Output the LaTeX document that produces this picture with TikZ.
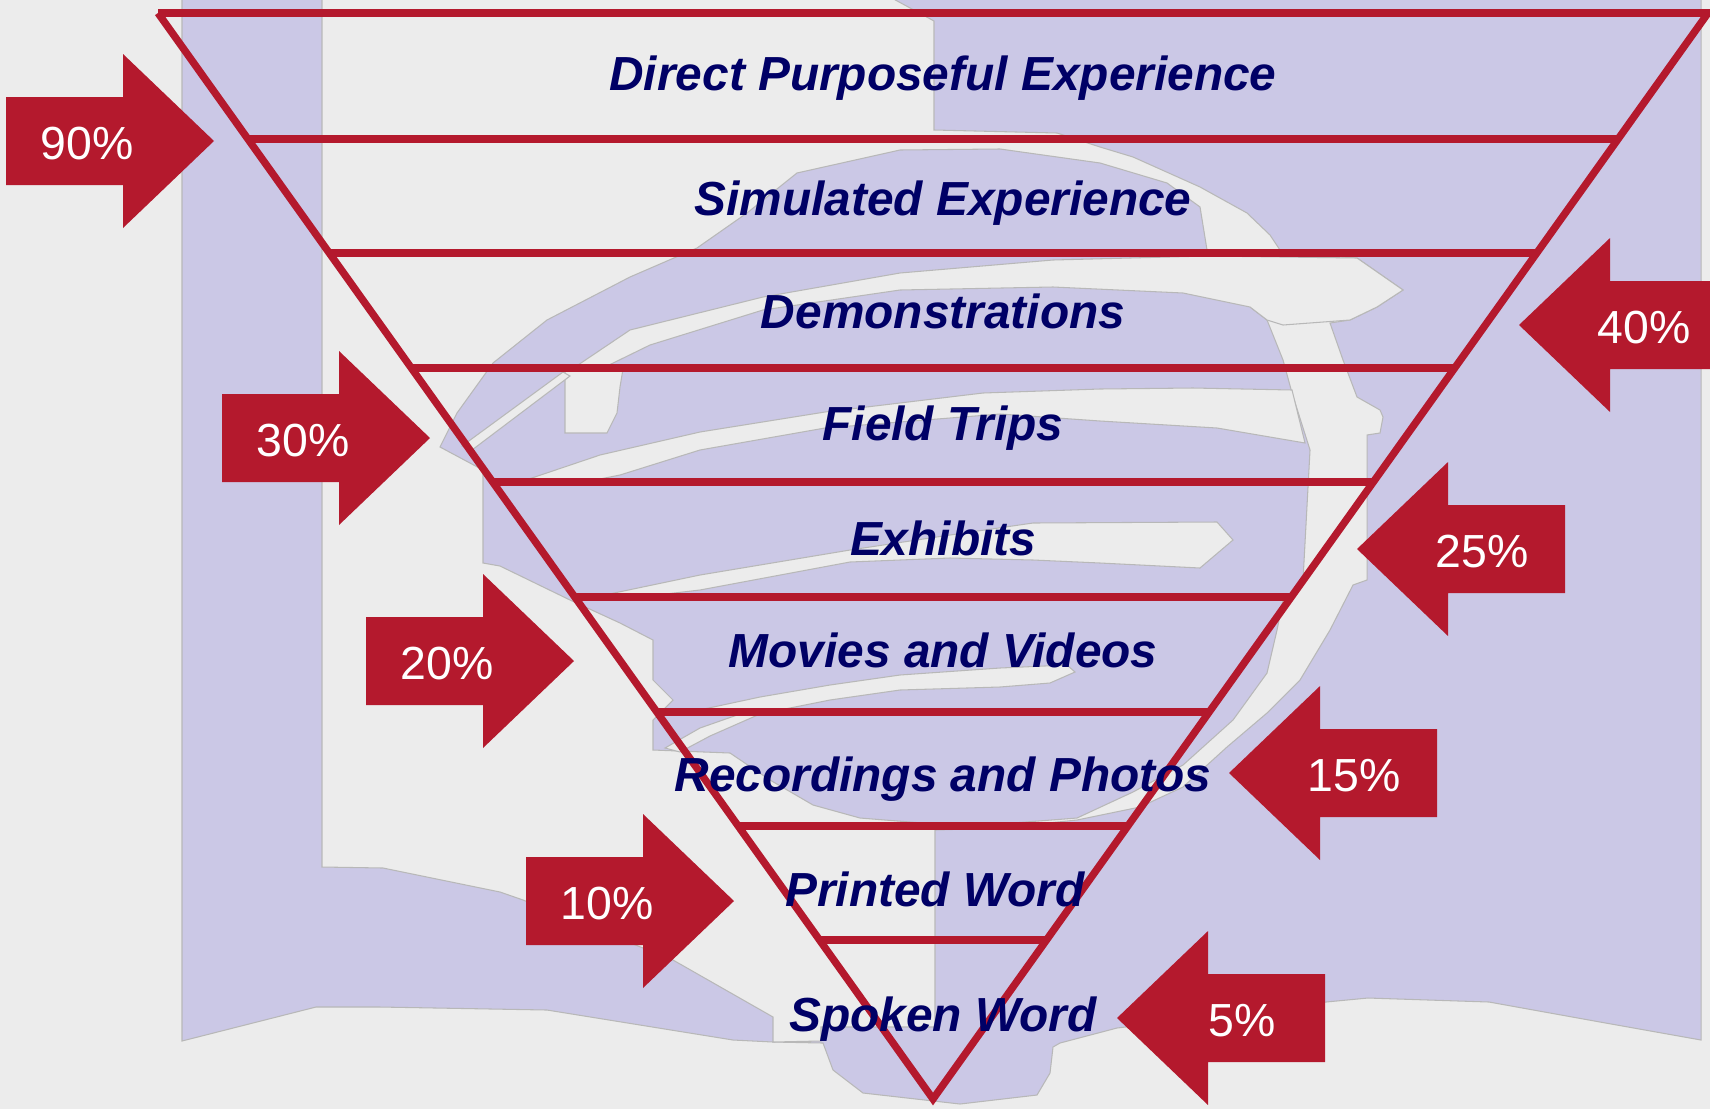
\documentclass[tikz,border=0pt]{standalone}
\usepackage{fontspec}
\setmainfont{Liberation Sans}
\usepackage{xcolor}
\usepackage{tikz}

\definecolor{conered}{RGB}{180,25,45}
\definecolor{labelnavy}{RGB}{0,0,102}
\definecolor{booklav}{RGB}{203,200,230}
\definecolor{paper}{RGB}{236,236,236}

\tikzset{
  coneline/.style={draw=conered, line width=2.1pt},
  stage/.style={text=labelnavy, font=\fontsize{13.6}{16}\selectfont\bfseries\itshape, anchor=base, inner sep=0pt},
  percent/.style={text=white, font=\fontsize{13.2}{15}\selectfont, anchor=base, inner sep=0pt},
  lavpart/.style={fill=booklav, draw=black!28, line width=0.3pt},
  paperpart/.style={fill=paper, draw=black!28, line width=0.3pt},
}

\begin{document}
\begin{tikzpicture}[x=0.01cm, y=-0.01cm]

  \useasboundingbox (0,0) rectangle (1710,1109);
  \clip (0,0) rectangle (1710,1109);
  \fill[paper] (0,0) rectangle (1710,1109);

  % book in the background
  \path[lavpart] (182,-10) -- (1701,-10) -- (1701,1040) -- (1600,1022) -- (1489,1002) -- (1368,998)
    -- (1326,1002) -- (1200,1018) -- (1117,1028) -- (1060,1043) -- (1053,1047) -- (1050,1073)
    -- (1037,1095) -- (960,1104) -- (863,1093) -- (833,1070) -- (823,1043) -- (773,1042)
    -- (733,1040) -- (547,1010) -- (380,1007) -- (316,1007) -- (182,1041) -- cycle;
  \path[paperpart] (322,-10) -- (877,-10) -- (934,21) -- (934,130) -- (1057,133) -- (1100,147)
    -- (1133,157) -- (1200,187) -- (1247,213) -- (1270,235) -- (1282,253) -- (1357,258)
    -- (1403,290) -- (1377,307) -- (1350,320) -- (1330,323) -- (1343,360) -- (1357,397)
    -- (1380,410) -- (1383,417) -- (1380,433) -- (1367,435) -- (1367,580) -- (1353,585)
    -- (1330,630) -- (1300,680) -- (1267,713) -- (1227,747) -- (1183,787) -- (1140,807)
    -- (1077,820) -- (1000,828) -- (935,830) -- (935,1027) -- (821,1027) -- (821,1041)
    -- (773,1042) -- (773,1017) -- (673,960) -- (523,900) -- (500,892) -- (383,868)
    -- (322,867) -- cycle;
  \path[lavpart] (697,248) -- (747,213) -- (797,173) -- (900,150) -- (1000,149) -- (1100,163)
    -- (1167,183) -- (1200,207) -- (1207,250) -- (1250,307) -- (1267,320) -- (1283,360)
    -- (1292,393) -- (1310,450) -- (1303,580) -- (1283,600) -- (1277,630) -- (1267,673)
    -- (1233,720) -- (1183,765) -- (1133,792) -- (1077,818) -- (1000,824) -- (935,824)
    -- (860,818) -- (813,805) -- (770,780) -- (730,753) -- (653,750) -- (653,720)
    -- (673,700) -- (653,680) -- (653,640) -- (620,623) -- (570,600) -- (500,566)
    -- (483,563) -- (483,470) -- (440,447) -- (457,413) -- (493,363) -- (547,320)
    -- (630,277) -- cycle;
  \path[paperpart] (575,367) -- (630,330) -- (763,297) -- (900,273) -- (1053,260) -- (1207,256)
    -- (1357,258) -- (1403,290) -- (1377,307) -- (1350,320) -- (1283,325) -- (1267,320)
    -- (1250,307) -- (1183,293) -- (1053,287) -- (900,290) -- (763,310) -- (650,345)
    -- (605,367) -- cycle;
  \path[paperpart] (520,482) -- (600,455) -- (700,432) -- (825,412) -- (983,393) -- (1100,389)
    -- (1193,388) -- (1292,390) -- (1305,443) -- (1217,428) -- (1100,421) -- (1000,414)
    -- (825,428) -- (700,450) -- (620,475) -- (585,482) -- cycle;
  \path[paperpart] (595,597) -- (700,575) -- (850,550) -- (950,535) -- (1033,523) -- (1217,522)
    -- (1233,540) -- (1200,568) -- (1100,563) -- (1033,560) -- (950,558) -- (850,562)
    -- (700,590) -- (640,597) -- cycle;
  \path[paperpart] (690,712) -- (760,697) -- (830,685) -- (900,675) -- (1000,668) -- (1067,665)
    -- (1075,672) -- (1050,683) -- (1000,687) -- (900,690) -- (830,700) -- (770,712) -- cycle;
  \path[paperpart] (565,369) -- (623,369) -- (620,387) -- (617,413) -- (607,433) -- (565,433) -- cycle;
  \path[paperpart] (462,446) -- (563,372) -- (570,376) -- (472,450) -- cycle;
  \path[paperpart] (665,748) -- (700,728) -- (740,714) -- (760,714) -- (710,736) -- (680,752) -- cycle;

  % arrows
  \fill[conered] (6,97) -- ++(117,0) -- ++(0,-43) -- ++(91,87) -- ++(-91,87) -- ++(0,-43) -- ++(-117,0) -- cycle;
  \fill[conered] (222,394) -- ++(117,0) -- ++(0,-43) -- ++(91,87) -- ++(-91,87) -- ++(0,-43) -- ++(-117,0) -- cycle;
  \fill[conered] (366,617) -- ++(117,0) -- ++(0,-43) -- ++(91,87) -- ++(-91,87) -- ++(0,-43) -- ++(-117,0) -- cycle;
  \fill[conered] (526,857) -- ++(117,0) -- ++(0,-43) -- ++(91,87) -- ++(-91,87) -- ++(0,-43) -- ++(-117,0) -- cycle;

  \fill[conered] (1727,281) -- ++(-117,0) -- ++(0,-43) -- ++(-91,87) -- ++(91,87) -- ++(0,-43) -- ++(117,0) -- cycle;
  \fill[conered] (1565,505) -- ++(-117,0) -- ++(0,-43) -- ++(-91,87) -- ++(91,87) -- ++(0,-43) -- ++(117,0) -- cycle;
  \fill[conered] (1437,729) -- ++(-117,0) -- ++(0,-43) -- ++(-91,87) -- ++(91,87) -- ++(0,-43) -- ++(117,0) -- cycle;
  \fill[conered] (1325,974) -- ++(-117,0) -- ++(0,-43) -- ++(-91,87) -- ++(91,87) -- ++(0,-43) -- ++(117,0) -- cycle;

  \node[percent] (p90) at (87,159) {90\%};
  \node[percent] (p30) at (303,456) {30\%};
  \node[percent] (p20) at (447,679) {20\%};
  \node[percent] (p10) at (607,919) {10\%};
  \node[percent] (p40) at (1644,343) {40\%};
  \node[percent] (p25) at (1482,567) {25\%};
  \node[percent] (p15) at (1354,791) {15\%};
  \node[percent] (p5) at (1242,1036) {5\%};

  % the cone
  \draw[coneline] (158,13) -- (1710,13);
  \draw[coneline, line join=miter] (158,13) -- (933,1099) -- (1708,13);
  \draw[coneline] (248,139) -- (1618,139);
  \draw[coneline] (329,253) -- (1537,253);
  \draw[coneline] (411,368) -- (1455,368);
  \draw[coneline] (493,482) -- (1373,482);
  \draw[coneline] (575,597) -- (1291,597);
  \draw[coneline] (657,712) -- (1209,712);
  \draw[coneline] (738,826) -- (1128,826);
  \draw[coneline] (820,940) -- (1046,940);

  \node[stage] (direct) at (943,90) {Direct Purposeful Experience};
  \node[stage] (simulated) at (943,215) {Simulated Experience};
  \node[stage] (demos) at (943,328) {Demonstrations};
  \node[stage] (trips) at (943,440) {Field Trips};
  \node[stage] (exhibits) at (943,555) {Exhibits};
  \node[stage] (movies) at (943,667) {Movies and Videos};
  \node[stage] (recordings) at (943,791) {Recordings and Photos};
  \node[stage] (printed) at (935,906) {Printed Word};
  \node[stage] (spoken) at (943,1031) {Spoken Word};
\end{tikzpicture}
\end{document}
